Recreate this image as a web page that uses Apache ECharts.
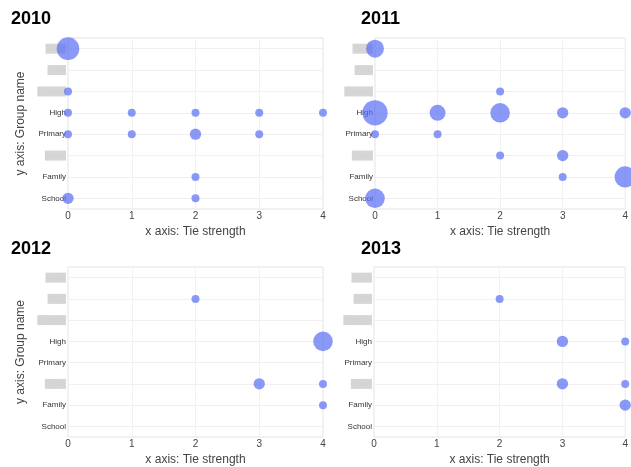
<!DOCTYPE html>
<html>
<head>
<meta charset="utf-8">
<script src="https://cdn.jsdelivr.net/npm/echarts@6/dist/echarts.min.js"></script>
<style>
  html, body { margin: 0; padding: 0; background: #fff; }
  #chart { width: 631px; height: 467px; }
</style>
</head>
<body>
<div id="chart"></div>
<script>
// Categories (top to bottom); some names were obscured in the original
const groups = ['Work', 'Club', 'Friends', 'High', 'Primary', 'Sport', 'Family', 'School'];
const hiddenGroups = ['Work', 'Club', 'Friends', 'Sport'];
const xTicks = [0, 1, 2, 3, 4];
const years = ['2010', '2011', '2012', '2013'];

// [tie strength, group, count]
const points2010 = [
  [0, 'Work', 8], [0, 'Friends', 1],
  [0, 'High', 1], [1, 'High', 1], [2, 'High', 1], [3, 'High', 1], [4, 'High', 1],
  [0, 'Primary', 1], [1, 'Primary', 1], [2, 'Primary', 2], [3, 'Primary', 1],
  [2, 'Family', 1],
  [0, 'School', 2], [2, 'School', 1]
];
const points2011 = [
  [0, 'Work', 5], [2, 'Friends', 1],
  [0, 'High', 10], [1, 'High', 4], [2, 'High', 6], [3, 'High', 2], [4, 'High', 2],
  [0, 'Primary', 1], [1, 'Primary', 1],
  [2, 'Sport', 1], [3, 'Sport', 2],
  [3, 'Family', 1], [4, 'Family', 7],
  [0, 'School', 6]
];
const points2012 = [
  [2, 'Club', 1],
  [4, 'High', 6],
  [3, 'Sport', 2], [4, 'Sport', 1],
  [4, 'Family', 1]
];
const points2013 = [
  [2, 'Club', 1],
  [3, 'High', 2], [4, 'High', 1],
  [3, 'Sport', 2], [4, 'Sport', 1],
  [4, 'Family', 2]
];
const allPoints = [points2010, points2011, points2012, points2013];

const grids = [
  { left: 68, top: 38, width: 255, height: 171 },
  { left: 375, top: 38, width: 252, height: 171 },
  { left: 68, top: 267, width: 255, height: 170 },
  { left: 374, top: 267, width: 254, height: 170 }
];
const titlePos = [
  { left: 11, top: 10 }, { left: 361, top: 10 },
  { left: 11, top: 240 }, { left: 361, top: 240 }
];

const FONT = 'Liberation Sans, Arial, sans-serif';
const chart = echarts.init(document.getElementById('chart'), null, { renderer: 'canvas' });

const option = {
  backgroundColor: '#fff',
  animation: false,
  title: years.map((y, i) => ({
    text: y, left: titlePos[i].left, top: titlePos[i].top, padding: 0,
    textStyle: { fontFamily: FONT, fontSize: 18, fontWeight: 'bold', color: '#000' }
  })),
  grid: grids.map(g => Object.assign({ show: true, borderColor: '#e2e2e2', borderWidth: 1, backgroundColor: 'transparent' }, g)),
  xAxis: grids.map((g, i) => ({
    type: 'value', gridIndex: i, min: 0, max: 4, interval: 1,
    name: 'x axis: Tie strength', nameLocation: 'middle', nameGap: 17,
    nameTextStyle: { fontFamily: FONT, fontSize: 12, color: '#444' },
    axisLine: { show: false }, axisTick: { show: false },
    axisLabel: { fontFamily: FONT, fontSize: 10, color: '#444', margin: 2,
      formatter: v => String(xTicks[v]) },
    splitLine: { show: true, lineStyle: { color: '#f2f2f2', width: 1 } }
  })),
  yAxis: grids.map((g, i) => ({
    type: 'category', gridIndex: i, data: groups, inverse: true,
    name: (i % 2 === 0) ? 'y axis: Group name' : '', nameLocation: 'middle', nameGap: 41,
    nameTextStyle: { fontFamily: FONT, fontSize: 12, color: '#444' },
    axisLine: { show: false }, axisTick: { show: false },
    axisLabel: {
      margin: 2, fontFamily: FONT, fontSize: 8, color: '#333',
      formatter: v => hiddenGroups.indexOf(v) >= 0 ? '{h|' + v + '}' : v,
      rich: { h: { fontSize: 8, color: '#d2d2d2', backgroundColor: '#d6d6d6', padding: [1, 1, 1, 1] } }
    },
    splitLine: { show: false }
  })),
  series: allPoints.map((pts, i) => ({
    type: 'scatter', xAxisIndex: i, yAxisIndex: i, data: pts,
    symbolSize: v => 8 * Math.sqrt(v[2]),
    itemStyle: { color: 'rgba(88,108,245,0.88)' },
    z: 5,
    markLine: {
      silent: true, symbol: 'none', animation: false,
      label: { show: false },
      lineStyle: { color: '#f0f0f0', width: 1, type: 'solid' },
      emphasis: { disabled: true },
      data: groups.map(gname => ({ yAxis: gname })),
      z: 1
    }
  }))
};
chart.setOption(option);
</script>
</body>
</html>
